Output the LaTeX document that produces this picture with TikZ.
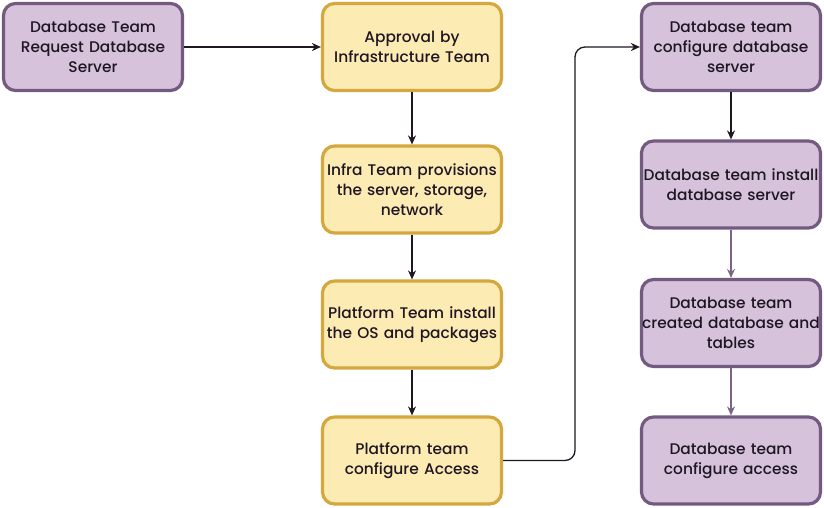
\documentclass[tikz,border=0pt]{standalone}
\usepackage{fontspec}
\setmainfont{Poppins}[UprightFont={* Medium}]
\usetikzlibrary{arrows.meta}
\definecolor{pfill}{RGB}{214,194,219}
\definecolor{pdraw}{RGB}{115,90,128}
\definecolor{yfill}{RGB}{253,235,180}
\definecolor{ydraw}{RGB}{212,168,62}
\definecolor{darr}{RGB}{30,22,34}
\definecolor{parr}{RGB}{125,100,135}
\begin{document}
\begin{tikzpicture}[x=1pt,y=-1pt,
  box/.style={rounded corners=12pt,line width=3.2pt,minimum width=179pt,minimum height=87pt,
    text width=178pt,align=center,font=\fontsize{15.4pt}{20pt}\selectfont,inner sep=0pt,text=darr},
  pbox/.style={box,fill=pfill,draw=pdraw},
  ybox/.style={box,fill=yfill,draw=ydraw},
  arr/.style={draw=darr,line width=1.3pt,-{Stealth[length=9pt,width=8pt]}},
  parrow/.style={draw=parr,line width=1.1pt,-{Stealth[length=9pt,width=8pt]}}]
\useasboundingbox (0,0) rectangle (824,508);
\node[pbox] (a) at (93,47) {Database Team\\Request Database\\Server};
\node[ybox] (b) at (412,47) {Approval by\\Infrastructure Team};
\node[ybox] (c) at (412,189.5) {Infra Team provisions\\the server, storage,\\network};
\node[ybox] (d) at (412,324.5) {Platform Team install\\the OS and packages};
\node[ybox] (e) at (412,460.5) {Platform team\\configure Access};
\node[pbox] (f) at (731,47) {Database team\\configure database\\server};
\node[pbox] (g) at (731,184.5) {Database team install\\database server};
\node[pbox] (h) at (731,323) {Database team\\created database and\\tables};
\node[pbox] (i) at (731,460.5) {Database team\\configure access};
\coordinate (m) at (575,0);
\draw[arr] (a) -- (b);
\draw[arr] (b) -- (c);
\draw[arr] (c) -- (d);
\draw[arr] (d) -- (e);
\draw[arr,rounded corners=10pt] (e.east) -- (e.east -| m) -- (f.west -| m) -- (f.west);
\draw[arr] (f) -- (g);
\draw[parrow] (g) -- (h);
\draw[parrow] (h) -- (i);
\end{tikzpicture}
\end{document}
